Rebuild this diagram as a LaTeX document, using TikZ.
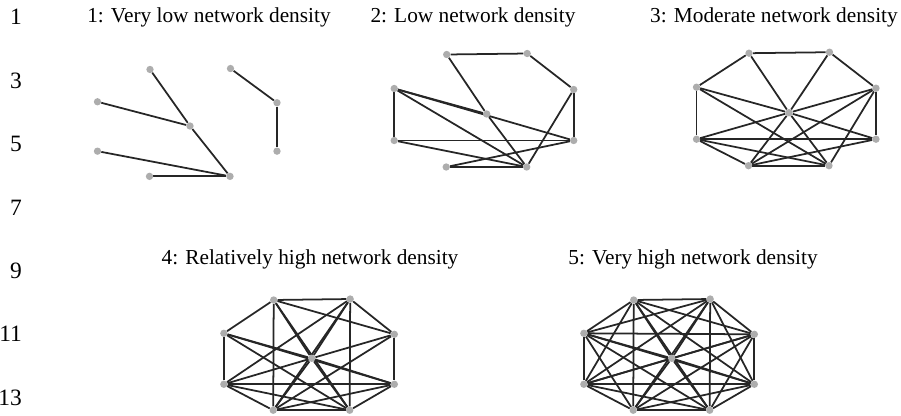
\documentclass[tikz,border=0pt]{standalone}
\usepackage{fontspec}
\setmainfont{Liberation Serif}
\usetikzlibrary{backgrounds}

% the nine nodes of one network, centre node C at the scope origin
\newcommand{\netnodes}[1]{%
  \foreach \n/\x/\y in {T1/-40/-59.5,T2/40.5/-60.5,L1/-92.5/-25.5,R1/87/-24.5,
      L2/-92.5/26.5,R2/87/26.5,B1/-40.5/53,B2/40/53,C/0/0}
    \node[vertex] (#1\n) at (\x,\y) {};
}
% links go behind the nodes
\newcommand{\netlinks}[2]{%
  \begin{pgfonlayer}{background}
    \foreach \a/\b in {#2} \draw[link] (#1\a) -- (#1\b);
  \end{pgfonlayer}
}

\begin{document}
\begin{tikzpicture}[x=0.03cm,y=-0.03cm,
    vertex/.style={circle,fill=black!32,inner sep=0pt,minimum size=0.22cm},
    link/.style={draw=black!85,line width=1.5pt},
    caption/.style={font=\fontsize{18.2}{20}\selectfont},
    lineno/.style={font=\fontsize{20}{22}\selectfont,anchor=east}]
  \useasboundingbox (0,0) rectangle (901,415);
  % line numbers down the left margin
  \foreach \k/\y in {1/17,3/81,5/144,7/208,9/271,11/334,13/398}
    \node[lineno] (no\k) at (26,\y) {\k};

  % 1: very low density
  \node[caption] (cap1) at (209,17) {1: Very low network density};
  \begin{scope}[shift={(190,126)},yscale=0.95]
    \netnodes{a}
  \end{scope}
  \netlinks{a}{T1/C,L1/C,C/B2,L2/B2,B1/B2,T2/R1,R1/R2}

  % 2: low density
  \node[caption] (cap2) at (473,17) {2: Low network density};
  \begin{scope}[shift={(486.7,114)}]
    \netnodes{b}
  \end{scope}
  \netlinks{b}{T1/T2,T2/R1,T1/C,C/B2,L1/C,L1/R2,L1/L2,L1/B2,
    L2/R2,L2/B2,B1/B2,B1/R2,B2/R1,R1/R2}

  % 3: moderate density
  \node[caption] (cap3) at (774,17) {3: Moderate network density};
  \begin{scope}[shift={(789,112.7)}]
    \netnodes{c}
  \end{scope}
  \netlinks{c}{T1/T2,T1/L1,T2/R1,L1/L2,R1/R2,B1/B2,L2/R2,T1/C,C/B2,
    T2/C,C/B1,L1/C,C/R2,R1/C,C/L2,L1/B2,L2/B1,L2/B2,R1/B1,R1/B2,B1/R2}

  % 4: relatively high density
  \node[caption] (cap4) at (310,259) {4: Relatively high network density};
  \begin{scope}[shift={(311.7,358.3)},xscale=0.95,yscale=0.98]
    \netnodes{d}
  \end{scope}
  \netlinks{d}{T1/T2,T2/R1,R1/R2,R2/B2,B2/B1,B1/L2,L2/L1,L1/T1,
    C/T1,C/T2,C/L1,C/R1,C/L2,C/R2,C/B1,C/B2,T1/B1,T2/B2,L2/R2,
    T1/R1,T2/L2,L1/B2,R1/B1,L2/B2,R2/B1,T1/B2,T2/B1,L1/R2}

  % 5: very high density, every pair linked
  \node[caption] (cap5) at (693,259) {5: Very high network density};
  \begin{scope}[shift={(671.7,358.3)},xscale=0.95,yscale=0.98]
    \netnodes{e}
  \end{scope}
  \begin{pgfonlayer}{background}
    \foreach \a [count=\i] in {T1,T2,L1,R1,L2,R2,B1,B2,C}
      \foreach \b [count=\j] in {T1,T2,L1,R1,L2,R2,B1,B2,C}
        {\ifnum\j>\i \draw[link] (e\a) -- (e\b);\fi}
  \end{pgfonlayer}
\end{tikzpicture}
\end{document}
